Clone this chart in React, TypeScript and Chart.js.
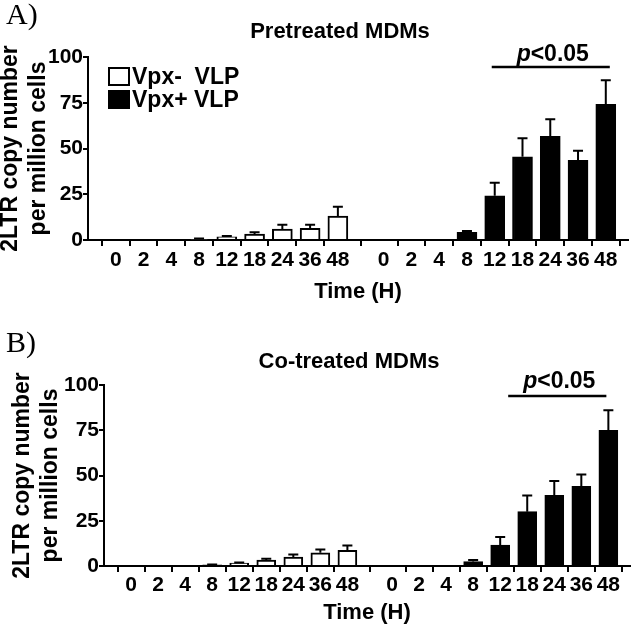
import React, { useEffect, useRef } from 'react';
import { Chart, registerables } from 'chart.js';

Chart.register(...registerables);

// ---- data ----
const TIME_LABELS = ['0', '2', '4', '8', '12', '18', '24', '36', '48'];
const SERIES_NAMES = ['Vpx-  VLP', 'Vpx+ VLP'];

const PRE_VPX_NEG = [0, 0, 0, 0.5, 1.8, 3.3, 6.0, 6.4, 13.1];
const PRE_VPX_NEG_ERR = [0, 0, 0, 0.3, 0.4, 1.0, 2.4, 2.0, 5.1];
const PRE_VPX_POS = [0, 0, 0.3, 4.2, 24.2, 45.5, 56.7, 43.5, 74.1];
const PRE_VPX_POS_ERR = [0, 0, 0, 0.7, 7.1, 10.1, 9.3, 5.3, 13.2];

const CO_VPX_NEG = [0, 0, 0, 0.6, 1.6, 3.3, 4.9, 7.3, 8.6];
const CO_VPX_NEG_ERR = [0, 0, 0, 0.2, 0.4, 0.7, 1.5, 1.8, 2.7];
const CO_VPX_POS = [0, 0, 0, 2.5, 11.5, 30.0, 39.0, 44.0, 75.0];
const CO_VPX_POS_ERR = [0, 0, 0, 0.8, 4.5, 9.0, 8.0, 6.5, 11.0];

const Y_TICK_STEP = 25;
const Y_MAX = 100;
const SIG_LABEL_P = 'p';
const SIG_LABEL_REST = '<0.05';
const SIG_FROM = '12';
const SIG_TO = '48';

// ---- layout ----
const FONT = '"Liberation Sans", Arial, Helvetica, sans-serif';
const SERIF = '"Liberation Serif", "Times New Roman", serif';
const GROUP1_START = 1;
const GROUP2_START = 10.65;
const X_MAX = 19.45;

type PanelCfg = {
  letter: string;
  letterY: number;
  title: string;
  titleX: number;
  titleY: number;
  neg: number[];
  negErr: number[];
  pos: number[];
  posErr: number[];
  top: number;
  right: number;
  yAxisWidth: number;
  xAxisHeight: number;
  xTickPad: number;
  xTitlePadBottom: number;
  yTitlePadTop: number;
  pY: number;
  bracketY: number;
  bracketOff: [number, number];
  legend: boolean;
  barW: number;
};

const PANEL_A: PanelCfg = {
  letter: 'A)', letterY: 16, title: 'Pretreated MDMs', titleX: 340, titleY: 32,
  neg: PRE_VPX_NEG, negErr: PRE_VPX_NEG_ERR, pos: PRE_VPX_POS, posErr: PRE_VPX_POS_ERR,
  top: 57, right: 5, yAxisWidth: 88, xAxisHeight: 74, xTickPad: 2, xTitlePadBottom: 9,
  yTitlePadTop: -3, pY: 55, bracketY: 67, bracketOff: [-3, 4], legend: true, barW: 20,
};

const PANEL_B: PanelCfg = {
  letter: 'B)', letterY: 30, title: 'Co-treated MDMs', titleX: 349, titleY: 48,
  neg: CO_VPX_NEG, negErr: CO_VPX_NEG_ERR, pos: CO_VPX_POS, posErr: CO_VPX_POS_ERR,
  top: 71, right: 3, yAxisWidth: 104, xAxisHeight: 62, xTickPad: 1, xTitlePadBottom: 2,
  yTitlePadTop: 9, pY: 68, bracketY: 82, bracketOff: [8, -2], legend: false, barW: 19,
};

const W = 633;
const H = 314;

function Panel({ cfg }: { cfg: PanelCfg }) {
  const ref = useRef<HTMLCanvasElement>(null);

  useEffect(() => {
    const pos1 = TIME_LABELS.map((_, i) => GROUP1_START + i);
    const pos2 = TIME_LABELS.map((_, i) => GROUP2_START + i);
    const tickPos = [...pos1, ...pos2];
    const tickText = [...TIME_LABELS, ...TIME_LABELS];

    const errorBars = {
      id: 'errorBars',
      afterDatasetsDraw(chart: any) {
        const { ctx } = chart;
        const ys = chart.scales.y;
        chart.data.datasets.forEach((ds: any, di: number) => {
          const meta = chart.getDatasetMeta(di);
          meta.data.forEach((bar: any, i: number) => {
            const e = ds.errors[i];
            if (!e) return;
            const v = ds.data[i].y;
            const yTop = ys.getPixelForValue(v + e);
            const yBar = ys.getPixelForValue(v);
            const cap = 10;
            ctx.save();
            ctx.strokeStyle = '#000';
            ctx.lineWidth = 2;
            ctx.beginPath();
            ctx.moveTo(bar.x, yBar);
            ctx.lineTo(bar.x, yTop);
            ctx.moveTo(bar.x - cap / 2, yTop);
            ctx.lineTo(bar.x + cap / 2, yTop);
            ctx.stroke();
            ctx.restore();
          });
        });
      },
    };

    const decor = {
      id: 'decor',
      afterDraw(chart: any) {
        const { ctx } = chart;
        const xs = chart.scales.x;
        ctx.save();
        ctx.fillStyle = '#000';
        ctx.strokeStyle = '#000';
        // panel letter
        ctx.font = `30px ${SERIF}`;
        ctx.textBaseline = 'middle';
        ctx.textAlign = 'left';
        ctx.fillText(cfg.letter, 6, cfg.letterY);
        // title
        ctx.font = `bold 22px ${FONT}`;
        ctx.textAlign = 'center';
        ctx.fillText(cfg.title, cfg.titleX, cfg.titleY);
        // significance bracket
        const i1 = TIME_LABELS.indexOf(SIG_FROM);
        const i2 = TIME_LABELS.indexOf(SIG_TO);
        const bx1 = xs.getPixelForValue(pos2[i1]) + cfg.bracketOff[0];
        const bx2 = xs.getPixelForValue(pos2[i2]) + cfg.bracketOff[1];
        ctx.lineWidth = 2.5;
        ctx.beginPath();
        ctx.moveTo(bx1, cfg.bracketY);
        ctx.lineTo(bx2, cfg.bracketY);
        ctx.stroke();
        ctx.textAlign = 'left';
        ctx.font = `italic bold 23px ${FONT}`;
        const wp = ctx.measureText(SIG_LABEL_P).width;
        ctx.font = `bold 23px ${FONT}`;
        const wr = ctx.measureText(SIG_LABEL_REST).width;
        const cx = (bx1 + bx2) / 2 + 2;
        const x0 = cx - (wp + wr) / 2;
        ctx.font = `italic bold 23px ${FONT}`;
        ctx.fillText(SIG_LABEL_P, x0, cfg.pY);
        ctx.font = `bold 23px ${FONT}`;
        ctx.fillText(SIG_LABEL_REST, x0 + wp, cfg.pY);
        // legend
        if (cfg.legend) {
          const boxX = 108;
          const boxW = 22;
          const boxH = 19;
          const rows = [67, 90];
          chart.data.datasets.forEach((ds: any, di: number) => {
            const y = rows[di];
            ctx.fillStyle = ds.backgroundColor;
            ctx.fillRect(boxX, y, boxW, boxH);
            ctx.lineWidth = 2;
            ctx.strokeStyle = '#000';
            ctx.strokeRect(boxX + 1, y + 1, boxW - 2, boxH - 2);
            ctx.fillStyle = '#000';
            ctx.font = `bold 23px ${FONT}`;
            ctx.textAlign = 'left';
            ctx.textBaseline = 'middle';
            ctx.fillText(ds.label, boxX + boxW + 2, y + boxH / 2 + 1);
          });
        }
        ctx.restore();
      },
    };

    const tickFont = { family: FONT, size: 21, weight: 'bold' as const };

    const chart = new Chart(ref.current as HTMLCanvasElement, {
      type: 'bar',
      data: {
        datasets: [
          {
            label: SERIES_NAMES[0],
            data: pos1.map((x, i) => ({ x, y: cfg.neg[i] })),
            errors: cfg.negErr,
            backgroundColor: '#ffffff',
            borderColor: '#000000',
            borderWidth: 2,
            barThickness: cfg.barW,
            grouped: false,
          } as any,
          {
            label: SERIES_NAMES[1],
            data: pos2.map((x, i) => ({ x, y: cfg.pos[i] })),
            errors: cfg.posErr,
            backgroundColor: '#000000',
            borderColor: '#000000',
            borderWidth: 2,
            barThickness: cfg.barW,
            grouped: false,
          } as any,
        ],
      },
      options: {
        animation: false,
        responsive: false,
        maintainAspectRatio: false,
        devicePixelRatio: 1,
        layout: { padding: { top: cfg.top, right: cfg.right, left: 0, bottom: 0 } },
        plugins: {
          legend: { display: false },
          title: { display: false },
          tooltip: { enabled: false },
        },
        scales: {
          x: {
            type: 'linear',
            offset: false,
            min: 0,
            max: X_MAX,
            afterBuildTicks: (s: any) => {
              s.ticks = tickPos.map((v) => ({ value: v }));
            },
            afterFit: (s: any) => {
              s.height = cfg.xAxisHeight;
            },
            ticks: {
              autoSkip: false,
              maxRotation: 0,
              minRotation: 0,
              color: '#000',
              font: tickFont,
              padding: cfg.xTickPad,
              callback: (_v: any, i: number) => tickText[i],
            },
            grid: {
              display: true,
              drawOnChartArea: false,
              drawTicks: true,
              tickLength: 6,
              color: '#000',
              lineWidth: 2,
            },
            border: { display: true, color: '#000', width: 2 },
            title: {
              display: true,
              text: 'Time (H)',
              color: '#000',
              font: { family: FONT, size: 22, weight: 'bold' },
              padding: { top: 0, bottom: cfg.xTitlePadBottom },
            },
          } as any,
          y: {
            min: 0,
            max: Y_MAX,
            afterFit: (s: any) => {
              s.width = cfg.yAxisWidth;
            },
            ticks: {
              stepSize: Y_TICK_STEP,
              color: '#000',
              font: tickFont,
              padding: 0,
            },
            grid: {
              display: true,
              drawOnChartArea: false,
              drawTicks: true,
              tickLength: 5,
              color: '#000',
              lineWidth: 2,
            },
            border: { display: true, color: '#000', width: 2 },
            title: {
              display: true,
              text: ['2LTR copy number', 'per million cells'],
              color: '#000',
              font: { family: FONT, size: 23, weight: 'bold', lineHeight: 1.2 },
              padding: { top: cfg.yTitlePadTop, bottom: 0 },
            },
          } as any,
        },
      },
      plugins: [errorBars, decor],
    });

    return () => chart.destroy();
  }, [cfg]);

  return (
    <div style={{ width: W, height: H }}>
      <canvas ref={ref} width={W} height={H} style={{ width: W, height: H, display: 'block' }} />
    </div>
  );
}

export default function App() {
  return (
    <div style={{ position: 'absolute', left: 0, top: 0, width: W, height: 628, background: '#fff' }}>
      <Panel cfg={PANEL_A} />
      <Panel cfg={PANEL_B} />
    </div>
  );
}
